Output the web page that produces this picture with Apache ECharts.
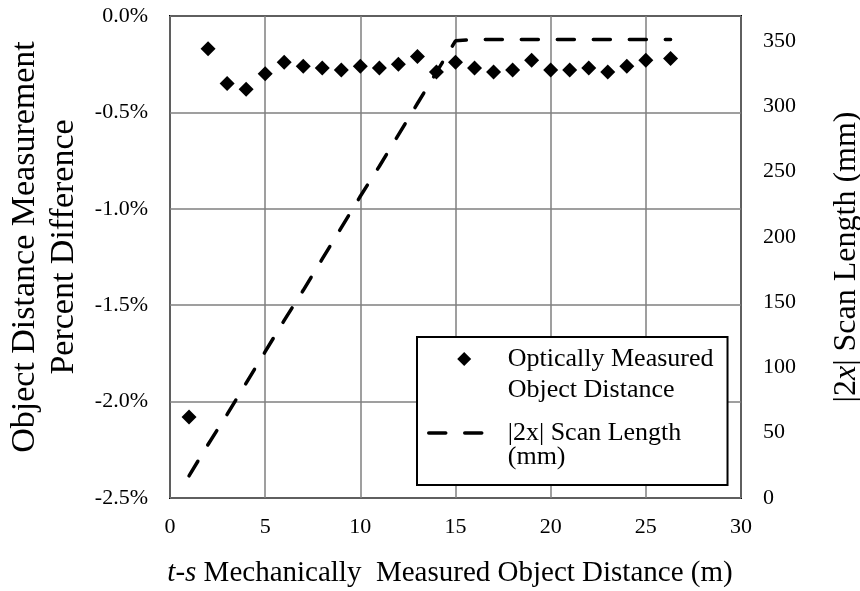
<!DOCTYPE html>
<html>
<head>
<meta charset="utf-8">
<script src="https://cdn.jsdelivr.net/npm/echarts@6/dist/echarts.min.js"></script>
<style>
html,body{margin:0;padding:0;background:#fff}
#chart{width:860px;height:591px}
</style>
</head>
<body>
<div id="chart"></div>
<script>
// optically measured distance vs. percent difference
const distance = [1, 2, 3, 4, 5, 6, 7, 8, 9, 10, 11, 12, 13, 14, 15, 16, 17, 18, 19, 20, 21, 22, 23, 24, 25, 26.3];
const percentDiff = [-2.08, -0.17, -0.35, -0.38, -0.30, -0.24, -0.26, -0.27, -0.28, -0.26, -0.27, -0.25, -0.21,
    -0.29, -0.24, -0.27, -0.29, -0.28, -0.23, -0.28, -0.28, -0.27, -0.29, -0.26, -0.23, -0.22];

// |2x| scan length (mm) at the same distances
const scanLength = [17, 41, 64, 88, 112, 136, 159, 183, 207, 231, 254, 278, 302, 326, 350, 351, 351, 351, 351,
    351, 351, 351, 351, 351, 351, 351];

const serif = 'Liberation Serif';
const nameScatter = 'Optically Measured\nObject Distance';
const nameLine = '|2x| Scan Length\n(mm)';

// diamond inside a 55x14 icon box (the tiny corner marks hold the box size)
const diamondIcon = 'path://M0,0L0.01,0L0,0.01Z M55,14L54.99,14L55,13.99Z M36,-0.5L43.5,7L36,14.5L28.5,7Z';

const dashStyle = {color: '#000', width: 3.5, type: [17, 19], cap: 'round'};

const chartDom = document.getElementById('chart');
const chart = echarts.init(chartDom, null, {renderer: 'canvas'});

const option = {
    animation: false,
    backgroundColor: '#fff',
    grid: {
        left: 170, right: 119, top: 16, bottom: 93,
        show: true, borderColor: '#000', borderWidth: 2,
        outerBoundsMode: 'none'
    },
    legend: {
        left: 417, top: 337,
        orient: 'vertical',
        backgroundColor: '#fff',
        borderColor: '#000', borderWidth: 2,
        padding: [-24.5, 14, 15, 10],
        itemWidth: 55, itemHeight: 14,
        itemGap: -9.5,
        // blank first line keeps the icon level with the first text line
        formatter: function (name) { return '\n' + name; },
        textStyle: {fontFamily: serif, fontSize: 26, color: '#000', padding: [0, 0, 0, 19]},
        data: [
            {name: nameScatter, icon: diamondIcon, textStyle: {lineHeight: 31}},
            {name: nameLine, icon: 'inherit', itemStyle: {opacity: 0}, lineStyle: dashStyle,
                textStyle: {lineHeight: 24}}
        ]
    },
    xAxis: {
        type: 'value', min: 0, max: 30, interval: 5,
        axisLine: {show: false}, axisTick: {show: false},
        splitLine: {lineStyle: {color: '#7f7f7f', width: 1.5}},
        axisLabel: {fontFamily: serif, fontSize: 22, color: '#000', margin: 18},
        name: '{it|t-s} Mechanically  Measured Object Distance (m)',
        nameLocation: 'middle', nameGap: 61,
        nameTextStyle: {
            fontFamily: serif, fontSize: 29, color: '#000', padding: [0, 11, 0, 0],
            rich: {it: {fontFamily: serif, fontSize: 29, fontStyle: 'italic', color: '#000'}}
        }
    },
    yAxis: [{
        type: 'value', min: -2.5, max: 0, interval: 0.5,
        axisLine: {show: false}, axisTick: {show: false},
        splitLine: {lineStyle: {color: '#7f7f7f', width: 1.5}},
        axisLabel: {
            fontFamily: serif, fontSize: 22, color: '#000', margin: 22,
            formatter: function (v) { return v.toFixed(1) + '%'; }
        },
        name: 'Object Distance Measurement\nPercent Difference',
        nameLocation: 'middle', nameGap: 85,
        nameTextStyle: {fontFamily: serif, fontSize: 34, lineHeight: 39, color: '#000', align: 'center',
            padding: [0, 0, 0, 20]}
    }, {
        type: 'value', min: 0, max: 369, interval: 50,
        position: 'right',
        axisLine: {show: false}, axisTick: {show: false},
        splitLine: {show: false},
        axisLabel: {fontFamily: serif, fontSize: 22, color: '#000', margin: 22, showMaxLabel: false},
        name: '|2{it|x}| Scan Length (mm)',
        nameLocation: 'middle', nameGap: 86,
        nameTextStyle: {
            fontFamily: serif, fontSize: 32, lineHeight: 39, color: '#000',
            rich: {it: {fontFamily: serif, fontSize: 32, lineHeight: 39, fontStyle: 'italic', color: '#000'}}
        }
    }],
    series: [{
        name: nameScatter,
        type: 'scatter',
        yAxisIndex: 0,
        symbol: 'diamond',
        symbolSize: [15, 15],
        itemStyle: {color: '#000', opacity: 1},
        data: distance.map((d, i) => [d, percentDiff[i]]),
        z: 3
    }, {
        name: nameLine,
        type: 'line',
        yAxisIndex: 1,
        symbol: 'none',
        lineStyle: dashStyle,
        itemStyle: {color: '#000'},
        data: distance.map((d, i) => [d, scanLength[i]]),
        z: 4
    }]
};

chart.setOption(option);
</script>
</body>
</html>
